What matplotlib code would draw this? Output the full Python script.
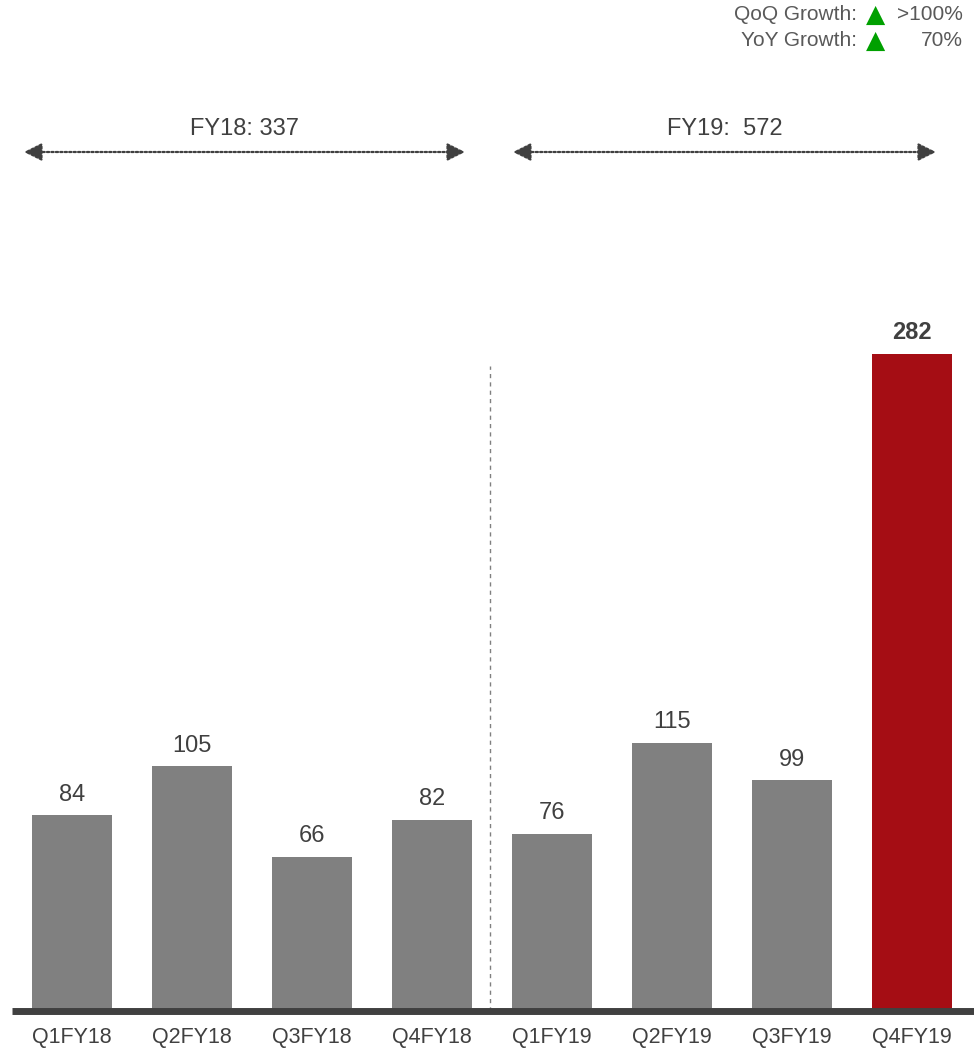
import matplotlib.pyplot as plt
import numpy as np

plt.rcParams['font.family'] = ['Liberation Sans', 'DejaVu Sans']

# Data
quarters = ['Q1FY18', 'Q2FY18', 'Q3FY18', 'Q4FY18', 'Q1FY19', 'Q2FY19', 'Q3FY19', 'Q4FY19']
values = [84, 105, 66, 82, 76, 115, 99, 282]
fy_labels = ['FY18: 337', 'FY19:  572']
growth_labels = ['QoQ Growth:', 'YoY Growth:']
growth_values = ['>100%', '70%']

txt = '#404040'
colors = ['#808080'] * 7 + ['#A50D14']

W, H = 974, 1048
fig = plt.figure(figsize=(W / 100, H / 100), dpi=100)
base_px = 1011
scale = 2.33
ax = fig.add_axes([12 / W, 1 - base_px / H, 962 / W, base_px / H])

x = np.arange(len(quarters))
bars = ax.bar(x, values, width=0.667, color=colors, zorder=2)
ax.set_xlim(-0.5, 7.517)
ax.set_ylim(0, base_px / scale)

for s in ['top', 'right', 'left']:
    ax.spines[s].set_visible(False)
ax.spines['bottom'].set_linewidth(5)
ax.spines['bottom'].set_color('#404040')
ax.spines['bottom'].set_capstyle('butt')
ax.set_yticks([])
ax.set_xticks(x)
ax.set_xticklabels(quarters, fontsize=15.5, color=txt)
ax.tick_params(axis='x', length=0, pad=11.5)

# value labels
for i, v in enumerate(values):
    ax.annotate(str(v), (x[i], v), xytext=(0, 7), textcoords='offset points',
                ha='center', va='bottom', fontsize=17, color=txt,
                fontweight='bold' if i == 7 else 'normal')

# divider between years
ax.plot([3.483, 3.483], [0, (base_px - 366) / scale], ls=(0, (3, 3)), color='#808080', lw=1)

# year arrows
arrow_y = (base_px - 152) / scale
for (x0, x1), lab in zip([(-0.4, 3.275), (3.675, 7.2)], fy_labels):
    ax.annotate('', xy=(x0, arrow_y), xytext=(x1, arrow_y),
                arrowprops=dict(arrowstyle='<|-|>', color='#404040', lw=1.6,
                                ls=(0, (1, 1)), mutation_scale=27,
                                shrinkA=0, shrinkB=0))
    ax.text((x0 + x1) / 2, arrow_y + 5, lab, ha='center', va='bottom',
            fontsize=17, color=txt)

# growth box
for j, (lab, val) in enumerate(zip(growth_labels, growth_values)):
    yy = 1 - (14 + 26 * j) / H
    fig.text(857 / W, yy, lab, ha='right', va='center', fontsize=15, color='#595959')
    fig.text(876 / W, yy - 0.001, '\u25B2', ha='center', va='center', fontsize=18,
             color='#00A000', family=['DejaVu Sans'])
    fig.text(963 / W, yy, val, ha='right', va='center', fontsize=15, color='#595959')

fig.savefig('out.png', dpi=100)
